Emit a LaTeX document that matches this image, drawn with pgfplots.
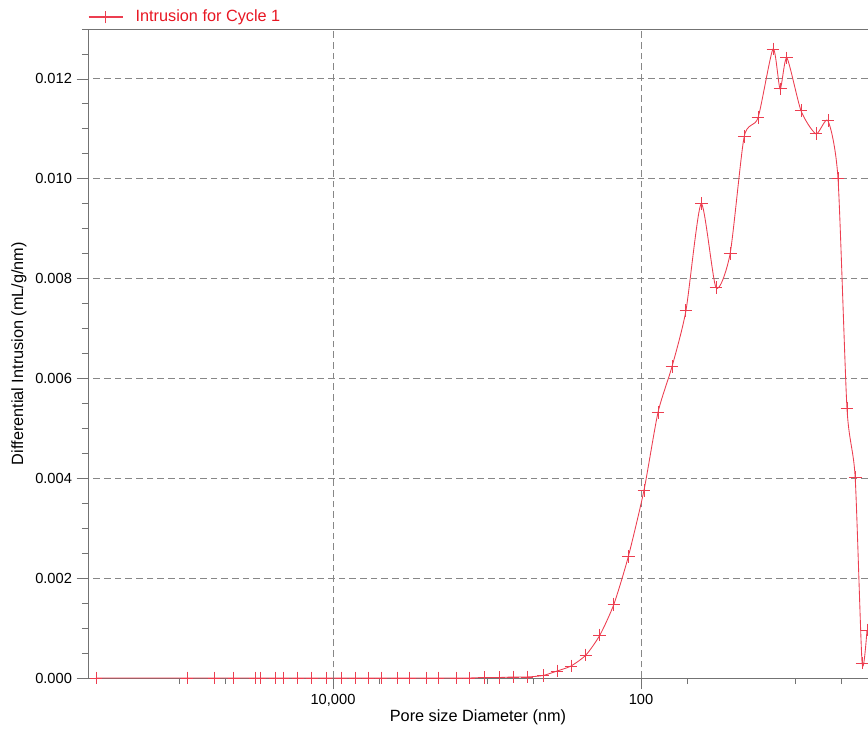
\documentclass[border=0pt]{standalone}
\usepackage{fontspec}
\setmainfont{Liberation Sans}
\usepackage{pgfplots}
\pgfplotsset{compat=1.18}
\definecolor{serred}{RGB}{236,62,80}
\definecolor{txtred}{RGB}{232,22,34}
\definecolor{gridgray}{RGB}{135,135,135}
\definecolor{axgray}{RGB}{115,115,115}
\pgfplotstableread{
D y
346000 0
88700 0
59300 0
44000 0
32100 0
29800 0
23800 0
21100 0
16900 0
13700 0
11100 0
8870 0
7190 0
5930 0
4880 0
3840 0
3200 0
2490 0
2080 0
1590 0
1310 0
1045 0.00001
836 0.00001
678 0.00002
550 0.00002
433 0.00005
351 0.00014
285 0.00024
228 0.00046
185 0.00086
150 0.00148
121 0.00243
95.7 0.00376
77.6 0.00532
62.9 0.00624
51.1 0.00736
40.7 0.0095
32.6 0.00782
26.4 0.0085
21.4 0.01084
17.4 0.01122
13.9 0.0126
12.5 0.0118
11.3 0.01242
9.14 0.01136
7.31 0.0109
6.11 0.01116
5.26 0.0100
4.60 0.0054
4.07 0.00402
3.67 0.0003
3.41 0.00096
}\datatable
\begin{document}
\begin{tikzpicture}
\begin{axis}[
  name=ax,
  scale only axis, width=585pt, height=486.75pt,
  xmode=log, x dir=reverse,
  xmin=3.36, xmax=390000,
  ymin=0, ymax=0.013,
  separate axis lines,
  axis x line*=box, axis y line*=left,
  xtick pos=bottom, ytick pos=left,
  axis line style={axgray, line width=0.7pt},
  tick align=outside,
  tick style={axgray, line width=0.6pt},
  major tick length=8.5pt, minor tick length=4.5pt,
  xtick={100,10000}, xticklabels={100,{10,000}},
  minor xtick={5,10,50,500,1000,5000,50000,100000},
  ytick={0,0.002,0.004,0.006,0.008,0.010,0.012},
  minor ytick={0.0005,0.001,0.0015,0.0025,0.003,0.0035,0.0045,0.005,0.0055,0.0065,0.007,0.0075,0.0085,0.009,0.0095,0.0105,0.011,0.0115,0.0125,0.013},
  scaled y ticks=false,
  /pgf/number format/assume math mode=true,
  tick label style={font=\fontsize{11}{13}\selectfont},
  yticklabel style={/pgf/number format/.cd, fixed, fixed zerofill, precision=3},
  grid=major,
  major grid style={gridgray, line width=0.7pt, dash pattern=on 5pt off 3pt},
  xlabel={Pore size Diameter (nm)},
  ylabel={Differential Intrusion (mL/g/nm)},
  every axis x label/.style={at={(rel axis cs:0.5,0)}, anchor=center, yshift=-29.5pt, font=\fontsize{12.2}{14}\selectfont},
  every axis y label/.style={at={(rel axis cs:0,0.5)}, anchor=center, xshift=-51.75pt, rotate=90, font=\fontsize{12.2}{14}\selectfont},
  legend style={at={(rel axis cs:0,1)}, anchor=west, yshift=9pt, draw=none, fill=none,
    inner sep=0pt, outer sep=0pt, font=\fontsize{12.2}{14}\selectfont},
  legend image code/.code={%
    \draw[serred, line width=0.8pt] (0pt,0pt) -- (25.5pt,0pt);
    \draw[serred, line width=0.7pt] (8pt,0pt) -- (17.5pt,0pt) (12.75pt,-4.8pt) -- (12.75pt,4.8pt);
    \path (33pt,0pt);},
]
\addplot[serred, line width=0.65pt, smooth, tension=0.4, mark=+, mark size=4.8pt,
  mark options={solid, draw=serred, line width=0.7pt}] table[x=D, y=y] {\datatable};
\addlegendentry{\textcolor{txtred}{Intrusion for Cycle 1}}
\end{axis}
\pgfresetboundingbox
\path ([xshift=-66pt,yshift=-38.25pt]ax.south west) rectangle ([yshift=21.75pt]ax.north east);
\end{tikzpicture}
\end{document}
